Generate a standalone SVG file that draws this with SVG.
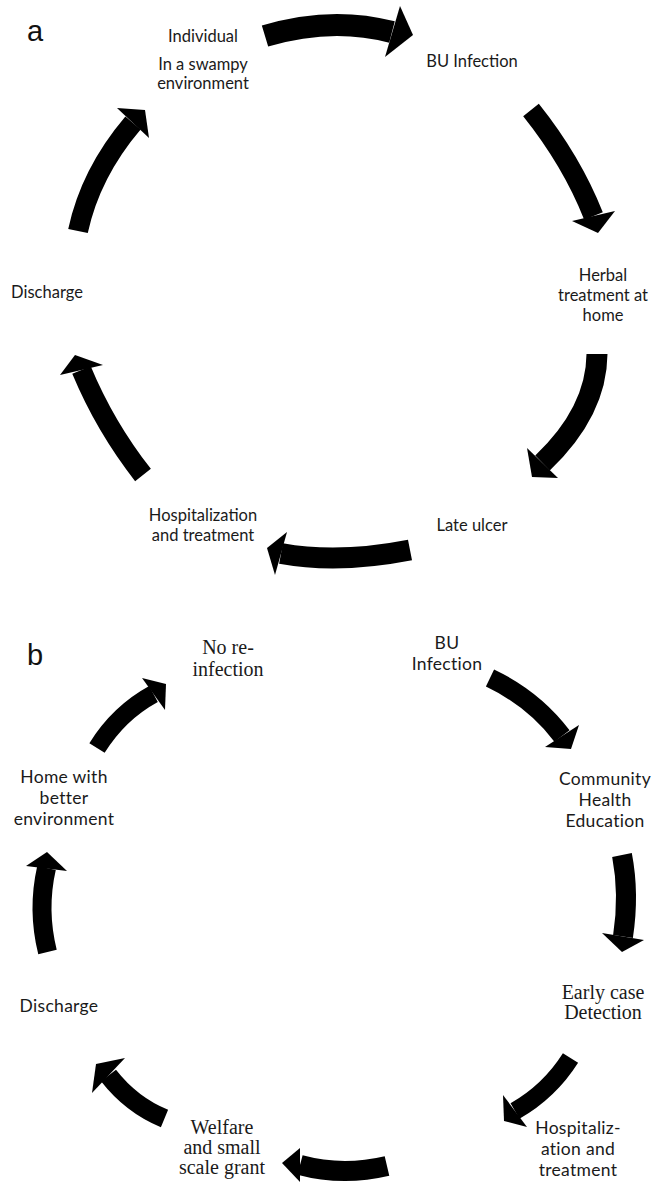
<svg xmlns="http://www.w3.org/2000/svg" width="653" height="1183" viewBox="0 0 653 1183">
<style>
.sa{font-family:Lato,"Liberation Sans",sans-serif;font-size:16.5px;fill:#1a1a1a;text-anchor:middle}
.sb{font-family:Lato,"Liberation Sans",sans-serif;font-size:17.5px;letter-spacing:0.3px;fill:#1a1a1a;text-anchor:middle}
.tb{font-family:"Liberation Serif",serif;font-size:20px;fill:#1a1a1a;text-anchor:middle}
.lbl{font-family:"Liberation Sans",Arial,sans-serif;font-size:29px;fill:#111}
.body{fill:none;stroke:#000;stroke-width:21;stroke-linecap:butt}
.head{fill:#000}
</style>
<rect width="653" height="1183" fill="#fff"/>
<text class="lbl" x="27" y="41">a</text>
<text class="lbl" x="27" y="665">b</text>

<g id="a-individual">
<text class="sa" x="203" y="42">Individual</text>
<text class="sa" x="203" y="70">In a swampy</text>
<text class="sa" x="203" y="89">environment</text>
</g>
<g id="a-bu"><text class="sa" x="472" y="67">BU Infection</text></g>
<g id="a-herbal">
<text class="sa" x="603" y="281">Herbal</text>
<text class="sa" x="603" y="301">treatment at</text>
<text class="sa" x="603" y="321">home</text>
</g>
<g id="a-late"><text class="sa" x="472" y="531">Late ulcer</text></g>
<g id="a-hosp">
<text class="sa" x="203" y="521">Hospitalization</text>
<text class="sa" x="203" y="541">and treatment</text>
</g>
<g id="a-discharge"><text class="sa" x="47" y="298">Discharge</text></g>

<g id="b-noreinf">
<text class="tb" x="228" y="654">No re-</text>
<text class="tb" x="228" y="676">infection</text>
</g>
<g id="b-bu">
<text class="sb" x="447" y="649">BU</text>
<text class="sb" x="447" y="670">Infection</text>
</g>
<g id="b-che">
<text class="sb" x="605" y="785">Community</text>
<text class="sb" x="605" y="806">Health</text>
<text class="sb" x="605" y="827">Education</text>
</g>
<g id="b-early">
<text class="tb" x="603" y="999">Early case</text>
<text class="tb" x="603" y="1019">Detection</text>
</g>
<g id="b-hosp">
<text class="sb" x="578" y="1134">Hospitaliz-</text>
<text class="sb" x="578" y="1155">ation and</text>
<text class="sb" x="578" y="1176">treatment</text>
</g>
<g id="b-welfare">
<text class="tb" x="222" y="1134">Welfare</text>
<text class="tb" x="222" y="1154">and small</text>
<text class="tb" x="222" y="1174">scale grant</text>
</g>
<g id="b-discharge"><text class="sb" x="59" y="1012">Discharge</text></g>
<g id="b-home">
<text class="sb" x="64" y="783">Home with</text>
<text class="sb" x="64" y="804">better</text>
<text class="sb" x="64" y="825">environment</text>
</g>

<g id="connectors">
<g id="a1"><path class="body" style="stroke-width:22" d="M265,36 Q331.5,16 392,32"/><polygon class="head" points="400,6 413,35 385,57"/></g>
<g id="a2"><path class="body" style="stroke-width:20" d="M531,110 Q571.75,161 593.5,216"/><polygon class="head" points="572,221 598,233 615,211"/></g>
<g id="a3"><path class="body" d="M597,354 Q596.5,411.5 542.5,463"/><polygon class="head" points="527,448 532,477 558,478"/></g>
<g id="a4"><path class="body" d="M410,550 Q338.5,564 281,553.5"/><polygon class="head" points="287,532 267,548 275,575"/></g>
<g id="a5"><path class="body" style="stroke-width:20" d="M143,475 Q105,426.5 81.5,370"/><polygon class="head" points="60,375 75,355 103,365"/></g>
<g id="a6"><path class="body" style="stroke-width:20" d="M78,231 Q90.5,173 133,123"/><polygon class="head" points="117,108 145,110 149,138"/></g>
<g id="b1"><path class="body" style="stroke-width:18" d="M97,748 Q118.75,713 153.5,694"/><polygon class="head" points="142,678 166,684 165,710"/></g>
<g id="b2"><path class="body" style="stroke-width:19" d="M490,678 Q534,699 562,736"/><polygon class="head" points="545,747 571,749 579,725"/></g>
<g id="b3"><path class="body" style="stroke-width:20" d="M622,855 Q629.5,894 623,936.5"/><polygon class="head" points="602,933 622,952 644,940"/></g>
<g id="b4"><path class="body" style="stroke-width:18" d="M570.5,1058 Q549.25,1091.5 515,1111"/><polygon class="head" points="503,1095 504,1121 527,1127"/></g>
<g id="b5"><path class="body" style="stroke-width:20" d="M387,1166 Q342.5,1176.5 300,1165"/><polygon class="head" points="300,1148 282,1163 300,1182"/></g>
<g id="b6"><path class="body" style="stroke-width:19" d="M164.5,1118.5 Q131.5,1105 108.5,1075.5"/><polygon class="head" points="125,1058 96,1064 92,1093"/></g>
<g id="b7"><path class="body" style="stroke-width:19" d="M47.5,952 Q37,910 46.5,868"/><polygon class="head" points="26,866 47,852 67,871"/></g>
</g>
</svg>
